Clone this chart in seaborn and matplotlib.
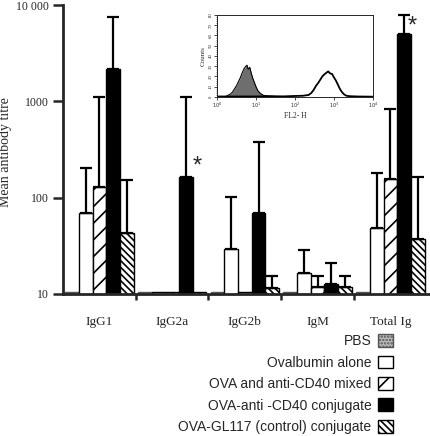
#!/usr/bin/python

# System imports
import numpy as np
import pandas as pd
import seaborn as sns
import matplotlib
matplotlib.use('Agg')
import matplotlib.pyplot as plt
from matplotlib.patches import Patch
from matplotlib.ticker import FixedLocator, NullFormatter

# Chart values
isotypes = ['IgG1', 'IgG2a', 'IgG2b', 'IgM', 'Total Ig']
groups = ['PBS', 'Ovalbumin alone', 'OVA and anti-CD40 mixed',
          'OVA-anti -CD40 conjugate', 'OVA-GL117 (control) conjugate']

pbs = [10.6, 10.6, 10.6, 10.6, 10.6]
ovalbumin = [70, 10.6, 29.5, 16.6, 49]
mixed = [130, 10.6, 10.6, 11.8, 158]
conjugate = [2150, 165, 70, 12.7, 5000]
gl117 = [43, 10.6, 11.5, 11.8, 37.5]

# upper end of the error bars (None = no bar)
pbs_err = [None, None, None, None, None]
ovalbumin_err = [205, None, 102, 28.7, 182]
mixed_err = [1100, None, None, 15.4, 830]
conjugate_err = [7500, 1100, 374, 21, 7800]
gl117_err = [154, None, 15.4, 15.4, 165]

y_ticks = [10, 100, 1000, 10000]
y_tick_labels = ['10', '100', '1000', '10 000']

# Inset flow cytometry histogram (log10 FL2-H, counts)
filled_x = [0.20, 0.25, 0.30, 0.35, 0.40, 0.45, 0.50, 0.55, 0.60, 0.65, 0.70, 0.74,
            0.77, 0.80, 0.84, 0.88, 0.92, 0.96, 1.00, 1.05, 1.10, 1.15, 1.20, 1.30, 1.45]
filled_y = [0.0, 1.0, 2.0, 3.0, 5.0, 8.0, 11.0, 15.0, 19.0, 24.0, 28.0, 30.0,
            31.0, 27.0, 29.0, 23.0, 18.0, 14.0, 10.0, 6.0, 4.0, 2.5, 1.5, 1.0, 0.5]
open_x = [0.00, 0.30, 0.60, 1.00, 1.40, 1.70, 2.00, 2.20, 2.35, 2.42, 2.48, 2.54, 2.60,
          2.65, 2.70, 2.75, 2.80, 2.85, 2.90, 2.95, 3.00, 3.05, 3.10, 3.15, 3.20, 3.26,
          3.32, 3.40, 3.60, 3.80, 4.00]
open_y = [0.5, 0.5, 0.5, 0.5, 0.8, 0.6, 1.0, 1.2, 2.0, 4.0, 7.0, 11.0, 14.0,
          17.0, 20.0, 22.0, 23.5, 25.0, 23.0, 22.5, 19.0, 16.0, 12.0, 8.0, 5.0, 2.5,
          1.2, 0.8, 0.5, 0.4, 0.3]

# Bar styles per group
STYLES = {
    'PBS': dict(facecolor='#bdbdbd', edgecolor='#555555', hatch='.....'),
    'Ovalbumin alone': dict(facecolor='white', edgecolor='black', hatch=None),
    'OVA and anti-CD40 mixed': dict(facecolor='white', edgecolor='black', hatch='//'),
    'OVA-anti -CD40 conjugate': dict(facecolor='black', edgecolor='black', hatch=None),
    'OVA-GL117 (control) conjugate': dict(facecolor='white', edgecolor='black', hatch='\\\\\\\\\\'),
}

SERIF = ['Liberation Serif', 'DejaVu Serif']
SANS = ['Liberation Sans', 'DejaVu Sans']


####################################################################################################
# @plot
####################################################################################################
def plot():

    sns.set_style('ticks')
    plt.rcParams['font.family'] = SERIF
    plt.rcParams['hatch.linewidth'] = 1.2

    values = [pbs, ovalbumin, mixed, conjugate, gl117]
    errors = [pbs_err, ovalbumin_err, mixed_err, conjugate_err, gl117_err]

    df = pd.DataFrame({
        'isotype': [iso for _ in groups for iso in isotypes],
        'group': [g for g in groups for _ in isotypes],
        'titre': [v for series in values for v in series],
    })

    fig = plt.figure(figsize=(4.30, 4.36), dpi=100)
    ax = fig.add_axes([63 / 430, 1 - 294 / 436, 367 / 430, 289 / 436])

    sns.barplot(data=df, x='isotype', y='titre', hue='group', order=isotypes,
                hue_order=groups, width=0.94, gap=0, legend=False, ax=ax,
                errorbar=None, log_scale=(False, True))

    # Style the bars and add the one-sided error bars
    for container, group, errs in zip(ax.containers, groups, errors):
        style = STYLES[group]
        for patch, err in zip(container.patches, errs):
            patch.set_facecolor(style['facecolor'])
            patch.set_edgecolor(style['edgecolor'])
            patch.set_linewidth(1.0)
            if style['hatch']:
                patch.set_hatch(style['hatch'])
            if err is not None:
                xc = patch.get_x() + patch.get_width() / 2
                top = patch.get_y() + patch.get_height()
                ax.errorbar([xc], [top], yerr=[[0], [err - top]], fmt='none',
                            ecolor='black', elinewidth=1.6, capsize=4.2,
                            capthick=1.6, zorder=1)

    # Significance stars
    star_iga = ax.containers[3].patches[1]
    star_tot = ax.containers[3].patches[4]
    for patch, dx, dy in [(star_iga, 8, 7.6), (star_tot, 6, 5.6)]:
        xc = patch.get_x() + patch.get_width() / 2
        top = patch.get_y() + patch.get_height()
        ax.annotate('*', xy=(xc, top), xytext=(dx, dy), textcoords='offset points',
                    ha='center', va='center', fontsize=17, family=SANS)

    # Axes
    ax.set_yscale('log')
    ax.set_ylim(10, 10000)
    ax.set_xlim(-0.5, 4.545)
    ax.yaxis.set_major_locator(FixedLocator(y_ticks))
    ax.set_yticklabels(y_tick_labels)
    ax.yaxis.set_minor_locator(FixedLocator([]))
    ax.tick_params(axis='y', which='major', length=7, width=1.8, pad=3, labelsize=8.5)

    ax.set_xticks(range(len(isotypes)))
    ax.set_xticklabels(isotypes)
    ax.xaxis.set_minor_locator(FixedLocator([0.5, 1.5, 2.5, 3.5]))
    ax.xaxis.set_minor_formatter(NullFormatter())
    ax.tick_params(axis='x', which='major', length=0, pad=15.5, labelsize=9.5)
    ax.tick_params(axis='x', which='minor', length=4, width=1.8, direction='out')

    ax.set_xlabel('')
    ax.set_ylabel('')
    for side in ['top', 'right']:
        ax.spines[side].set_visible(False)
    for side in ['left', 'bottom']:
        ax.spines[side].set_linewidth(2.0)

    fig.text(6 / 430, 1 - 152 / 436, 'Mean antibody titre', rotation=90,
             ha='center', va='center', fontsize=10)

    # Legend (labels right aligned, swatches on the right)
    handles = [Patch(facecolor=STYLES[g]['facecolor'], edgecolor=STYLES[g]['edgecolor'],
                     hatch=STYLES[g]['hatch'], linewidth=1.0, label=g) for g in groups]
    fig.legend(handles=handles, loc='lower right', bbox_to_anchor=(393 / 430, 2 / 436),
               frameon=False, markerfirst=False, borderpad=0, borderaxespad=0,
               handlelength=1.1, handleheight=1.05, handletextpad=0.45,
               labelspacing=0.52, prop={'family': SANS, 'size': 10})

    # Inset histogram
    ins = fig.add_axes([217 / 430, 1 - 97 / 436, 156 / 430, 82 / 436])
    fx = [10 ** v for v in filled_x]
    ox = [10 ** v for v in open_x]
    ins.fill_between(fx, filled_y, color='#6e6e6e', lw=0)
    sns.lineplot(x=fx, y=filled_y, color='black', lw=0.8, ax=ins)
    sns.lineplot(x=ox, y=open_y, color='black', lw=1.3, ax=ins)
    ins.set_xscale('log')
    ins.set_xlim(1, 10000)
    ins.set_ylim(0, 80)
    ins.set_xticks([1, 10, 100, 1000, 10000])
    ins.set_xticklabels(['$10^0$', '$10^1$', '$10^2$', '$10^3$', '$10^4$'])
    ins.xaxis.set_minor_locator(FixedLocator([]))
    ins.set_yticks(range(0, 81, 10))
    ins.yaxis.set_minor_locator(FixedLocator(range(0, 81, 2)))
    ins.tick_params(axis='both', which='major', length=2, width=0.6, pad=1, labelsize=3.5)
    ins.tick_params(axis='y', which='minor', length=1, width=0.4)
    for lab in ins.get_yticklabels():
        lab.set_rotation(90)
        lab.set_va('center')
    ins.set_xlabel('FL2- H', fontsize=5.5, labelpad=1)
    ins.set_ylabel('Counts', fontsize=5, labelpad=2)
    for side in ins.spines.values():
        side.set_linewidth(0.7)

    fig.savefig('out.png', dpi=100)
    plt.close(fig)


####################################################################################################
# @ Main
####################################################################################################
if __name__ == "__main__":
    plot()
